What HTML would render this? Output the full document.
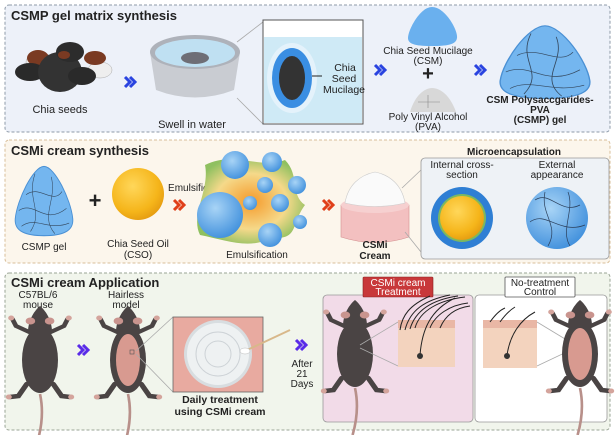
<!DOCTYPE html>
<html><head><meta charset="utf-8"><style>
html,body{margin:0;padding:0;background:#fff}
svg{display:block}
text{font-family:"Liberation Sans",sans-serif;fill:#222}
.b{font-weight:bold}
</style></head><body>
<svg width="616" height="435" viewBox="0 0 616 435" xmlns="http://www.w3.org/2000/svg">
<defs>
<radialGradient id="oil" cx="0.4" cy="0.35" r="0.7"><stop offset="0" stop-color="#ffd75a"/><stop offset="0.7" stop-color="#f5b51a"/><stop offset="1" stop-color="#e49a10"/></radialGradient>
<radialGradient id="bub" cx="0.4" cy="0.35" r="0.7"><stop offset="0" stop-color="#a8d4f6"/><stop offset="1" stop-color="#3f8fdc"/></radialGradient>
<radialGradient id="emu" cx="0.5" cy="0.5" r="0.55"><stop offset="0" stop-color="#f59a2a"/><stop offset="0.6" stop-color="#f5d98a"/><stop offset="1" stop-color="#8fc060"/></radialGradient>
<g id="mouse">
<path d="M0,88 Q4,110 -2,135" stroke="#b8908a" stroke-width="2.2" fill="none"/>
<path d="M-9,26 L-20,20 L-23,13 M9,26 L20,20 L23,13" stroke="#4a4444" stroke-width="4" fill="none" stroke-linecap="round"/>
<path d="M-11,78 L-18,90 L-25,91 M11,78 L18,90 L25,91" stroke="#4a4444" stroke-width="4.5" fill="none" stroke-linecap="round"/>
<circle cx="-24" cy="12" r="2.5" fill="#d4a49c"/><circle cx="24" cy="12" r="2.5" fill="#d4a49c"/>
<circle cx="-26" cy="91" r="2.5" fill="#d4a49c"/><circle cx="26" cy="91" r="2.5" fill="#d4a49c"/>
<ellipse cx="0" cy="54" rx="15" ry="33" fill="#4a4444"/>
<path d="M0,0 C6,6 10,16 10,26 L-10,26 C-10,16 -6,6 0,0Z" fill="#4a4444"/>
<ellipse cx="-8" cy="15" rx="4" ry="3.5" fill="#c9948e"/><ellipse cx="8" cy="15" rx="4" ry="3.5" fill="#c9948e"/>
</g>
<g id="gel">
<path d="M0,-32 C12,-32 30,0 32,18 C33,30 20,34 0,34 C-20,34 -33,30 -32,18 C-30,0 -12,-32 0,-32Z" fill="#74b6ef" stroke="#4a90d4" stroke-width="1"/>
<path d="M-20,-5 C-5,-15 10,5 20,-8 M-28,10 C-10,0 0,25 25,8 M-25,25 C-10,15 5,30 28,22 M-10,-25 C-20,0 0,10 -15,30 M8,-22 C15,0 -5,15 12,32" stroke="#34485e" stroke-width="0.6" fill="none"/>
</g>
<g id="chev"><path d="M0,-5 L5,0 L0,5 M5,-5 L10,0 L5,5" stroke-width="3" fill="none"/></g>
</defs>

<!-- Panel 1 -->
<rect x="5" y="5" width="605" height="127" rx="4" fill="#edf1f9" stroke="#8e9aa8" stroke-dasharray="3,2"/>
<text x="11" y="20" font-size="13" class="b">CSMP gel matrix synthesis</text>
<ellipse cx="40" cy="62" rx="14" ry="9" fill="#e8e8e8" stroke="#aaa" stroke-width="0.5"/>
<ellipse cx="100" cy="70" rx="12" ry="8" fill="#eee" stroke="#aaa" stroke-width="0.5"/>
<ellipse cx="38" cy="58" rx="11" ry="8" fill="#7a3a22"/>
<ellipse cx="95" cy="58" rx="11" ry="7" fill="#7a3a22"/>
<ellipse cx="30" cy="72" rx="15" ry="9" fill="#2a2a2a"/>
<ellipse cx="60" cy="72" rx="22" ry="20" fill="#333"/>
<ellipse cx="70" cy="52" rx="14" ry="10" fill="#2c2c2c"/>
<ellipse cx="82" cy="76" rx="14" ry="9" fill="#2a2a2a"/>
<ellipse cx="64" cy="55" rx="6" ry="4" fill="#7a3a22"/>
<text x="60" y="113" font-size="11" text-anchor="middle">Chia seeds</text>
<use href="#chev" x="125" y="82" stroke="#2a44e0"/>
<path d="M150,52 L156,90 Q195,105 234,90 L240,52Z" fill="#c9ccd2"/>
<ellipse cx="195" cy="52" rx="45" ry="17" fill="#aeb2ba"/>
<ellipse cx="195" cy="53" rx="40" ry="14" fill="#bfe0f2"/>
<ellipse cx="195" cy="58" rx="14" ry="6" fill="#6e6e76"/>
<text x="192" y="128" font-size="11" text-anchor="middle">Swell in water</text>
<line x1="237" y1="42" x2="263" y2="22" stroke="#aaa" stroke-width="0.8"/>
<line x1="237" y1="98" x2="263" y2="124" stroke="#aaa" stroke-width="0.8"/>
<rect x="263" y="20" width="100" height="104" fill="#fff" stroke="#555" stroke-width="1"/>
<rect x="264" y="37" width="98" height="86" fill="#cfeaf6"/>
<ellipse cx="292" cy="78" rx="25" ry="35" fill="#e4f2fb"/>
<ellipse cx="292" cy="78" rx="20" ry="30" fill="#3a8ee2"/>
<ellipse cx="292" cy="78" rx="13" ry="22" fill="#333"/>
<line x1="312" y1="76" x2="322" y2="76" stroke="#222"/>
<text font-size="10.5" text-anchor="middle"><tspan x="345" y="71">Chia</tspan><tspan x="344" y="82">Seed</tspan><tspan x="344" y="93">Mucilage</tspan></text>
<use href="#chev" x="375" y="70" stroke="#2a44e0"/>
<path d="M432,7 C445,7 458,30 457,38 C456,45 446,46 432,46 C418,46 408,45 408,38 C408,30 420,7 432,7Z" fill="#6ab0ee"/>
<text x="428" y="54" font-size="10" text-anchor="middle">Chia Seed Mucilage</text>
<text x="428" y="64" font-size="10" text-anchor="middle">(CSM)</text>
<text x="428" y="80" font-size="20" class="b" text-anchor="middle">+</text>
<path d="M410,112 C415,95 425,88 432,88 C440,88 450,95 456,112Z" fill="#d8d8d8"/>
<path d="M418,102 L440,102 M428,95 L428,108" stroke="#888" stroke-width="0.6"/>
<text x="428" y="120" font-size="10" text-anchor="middle">Poly Vinyl Alcohol</text>
<text x="428" y="130" font-size="10" text-anchor="middle">(PVA)</text>
<use href="#chev" x="475" y="70" stroke="#2a44e0"/>
<use href="#gel" transform="translate(545,61) scale(1.4,1.1)"/>
<text x="540" y="103" font-size="10" class="b" text-anchor="middle">CSM Polysaccgarides-</text>
<text x="540" y="113" font-size="10" class="b" text-anchor="middle">PVA</text>
<text x="540" y="123" font-size="10" class="b" text-anchor="middle">(CSMP) gel</text>

<!-- Panel 2 -->
<rect x="5" y="140" width="605" height="123" rx="4" fill="#fcf6ec" stroke="#d8bf9a" stroke-dasharray="3,2"/>
<text x="11" y="155" font-size="13" class="b">CSMi cream synthesis</text>
<use href="#gel" transform="translate(44,200) scale(0.9,1.05)"/>
<text x="44" y="250" font-size="10" text-anchor="middle">CSMP gel</text>
<text x="95" y="208" font-size="22" class="b" text-anchor="middle">+</text>
<circle cx="138" cy="194" r="26" fill="url(#oil)"/>
<text x="138" y="247" font-size="10" text-anchor="middle">Chia Seed Oil</text>
<text x="138" y="258" font-size="10" text-anchor="middle">(CSO)</text>
<text x="190" y="191" font-size="10" text-anchor="middle">Emulsifier</text>
<use href="#chev" x="174" y="205" stroke="#e0401a"/>
<path d="M205,165 C235,150 260,170 285,160 C300,175 290,195 305,205 C290,225 300,240 270,238 C250,250 225,240 200,235 C190,215 210,190 205,165Z" fill="url(#emu)"/>
<circle cx="220" cy="215" r="23" fill="url(#bub)"/>
<circle cx="235" cy="165" r="14" fill="url(#bub)"/>
<circle cx="272" cy="162" r="10" fill="url(#bub)"/>
<circle cx="265" cy="185" r="8" fill="url(#bub)"/>
<circle cx="297" cy="185" r="9" fill="url(#bub)"/>
<circle cx="250" cy="203" r="7" fill="url(#bub)"/>
<circle cx="280" cy="203" r="9" fill="url(#bub)"/>
<circle cx="300" cy="222" r="7" fill="url(#bub)"/>
<circle cx="270" cy="235" r="12" fill="url(#bub)"/>
<text x="257" y="258" font-size="10" text-anchor="middle">Emulsification</text>
<use href="#chev" x="323" y="205" stroke="#e0401a"/>
<path d="M341,205 L341,237 Q375,248 409,237 L409,205Z" fill="#f3c0c0" stroke="#d49090" stroke-width="0.6"/>
<ellipse cx="375" cy="205" rx="34" ry="8" fill="#f6d0d0"/>
<path d="M345,203 C348,185 360,175 375,172 C390,175 402,185 405,203 Q375,210 345,203Z" fill="#fafafa" stroke="#ccc" stroke-width="0.6"/>
<text x="375" y="248" font-size="10" class="b" text-anchor="middle">CSMi</text>
<text x="375" y="259" font-size="10" class="b" text-anchor="middle">Cream</text>
<line x1="402" y1="188" x2="421" y2="170" stroke="#aaa" stroke-width="0.8"/>
<line x1="405" y1="232" x2="421" y2="252" stroke="#aaa" stroke-width="0.8"/>
<text x="514" y="155" font-size="10" class="b" text-anchor="middle">Microencapsulation</text>
<rect x="421" y="158" width="188" height="101" rx="4" fill="#eef2f6" stroke="#999" stroke-width="0.8"/>
<text x="462" y="168" font-size="10" text-anchor="middle">Internal cross-</text>
<text x="462" y="178" font-size="10" text-anchor="middle">section</text>
<text x="557" y="168" font-size="10" text-anchor="middle">External</text>
<text x="557" y="178" font-size="10" text-anchor="middle">appearance</text>
<circle cx="462" cy="218" r="31" fill="#2f7fd4"/>
<circle cx="462" cy="218" r="24" fill="#7cb860"/>
<circle cx="462" cy="218" r="22" fill="url(#oil)"/>
<circle cx="557" cy="218" r="31" fill="url(#bub)"/>
<path d="M535,200 C550,190 560,215 580,205 M530,222 C545,210 560,235 585,225 M545,192 C540,215 560,225 548,246 M568,192 C575,210 560,230 570,246" stroke="#2a3e5a" stroke-width="0.7" fill="none"/>

<!-- Panel 3 -->
<rect x="5" y="273" width="605" height="157" rx="4" fill="#f1f5ec" stroke="#9aa596" stroke-dasharray="3,2"/>
<text x="11" y="287" font-size="13" class="b">CSMi cream Application</text>
<text x="38" y="298" font-size="10" text-anchor="middle">C57BL/6</text>
<text x="38" y="308" font-size="10" text-anchor="middle">mouse</text>
<text x="126" y="298" font-size="10" text-anchor="middle">Hairless</text>
<text x="126" y="308" font-size="10" text-anchor="middle">model</text>
<use href="#mouse" transform="translate(40,306) scale(1.2,1)"/>
<use href="#chev" x="78" y="350" stroke="#5a2be8"/>
<use href="#mouse" transform="translate(128,306) scale(1.2,1)"/>
<ellipse cx="128" cy="360" rx="12" ry="26" fill="#d89a90"/>
<rect x="130" y="350" width="4" height="4" fill="none" stroke="#555" stroke-width="0.6"/>
<line x1="136" y1="351" x2="173" y2="317" stroke="#aaa" stroke-width="0.8"/>
<line x1="136" y1="354" x2="173" y2="392" stroke="#aaa" stroke-width="0.8"/>
<rect x="173" y="317" width="90" height="75" fill="#e8aaa0" stroke="#666" stroke-width="0.8"/>
<circle cx="218" cy="354" r="34" fill="#d8dde0"/>
<circle cx="218" cy="354" r="31" fill="#eef1f2"/>
<circle cx="218" cy="354" r="22" fill="none" stroke="#cdd2d6" stroke-width="1"/>
<circle cx="218" cy="354" r="13" fill="none" stroke="#cdd2d6" stroke-width="1"/>
<line x1="245" y1="351" x2="290" y2="330" stroke="#d8b88a" stroke-width="2"/>
<ellipse cx="245" cy="351" rx="5" ry="3" fill="#fff" stroke="#bbb" stroke-width="0.5"/>
<text x="220" y="403" font-size="10.5" class="b" text-anchor="middle">Daily treatment</text>
<text x="220" y="415" font-size="10.5" class="b" text-anchor="middle">using CSMi cream</text>
<use href="#chev" x="296" y="345" stroke="#5a2be8"/>
<text x="302" y="367" font-size="10" text-anchor="middle">After</text>
<text x="302" y="377" font-size="10" text-anchor="middle">21</text>
<text x="302" y="387" font-size="10" text-anchor="middle">Days</text>
<rect x="323" y="295" width="150" height="127" rx="4" fill="#f2dbe8" stroke="#999" stroke-width="0.8"/>
<rect x="363" y="277" width="70" height="20" rx="1" fill="#c8383a" stroke="#8a2020" stroke-width="0.6"/>
<text x="398" y="286" font-size="10" text-anchor="middle" style="fill:#fff">CSMi cream</text>
<text x="398" y="295" font-size="10" text-anchor="middle" style="fill:#fff">Treatment</text>
<use href="#mouse" transform="translate(355,300) scale(1.2,1)"/>
<line x1="360" y1="345" x2="398" y2="322" stroke="#aaa" stroke-width="0.8"/>
<line x1="360" y1="348" x2="398" y2="366" stroke="#aaa" stroke-width="0.8"/>
<rect x="398" y="320" width="57" height="47" fill="#f3d3be"/>
<rect x="398" y="320" width="57" height="8" fill="#e9b7a5"/>
<path d="M420,355 C422,330 430,310 455,298 M405,330 C410,310 425,300 450,295 M415,328 C420,310 440,300 465,297 M430,328 C435,315 450,305 468,303 M400,330 C402,315 410,305 430,296 M410,329 C415,312 430,300 458,296 M440,328 C445,316 455,308 470,306" stroke="#222" stroke-width="1" fill="none"/>
<circle cx="420" cy="356" r="3" fill="#333"/>
<rect x="475" y="295" width="132" height="127" rx="4" fill="#fff" stroke="#999" stroke-width="0.8"/>
<rect x="505" y="277" width="70" height="20" rx="1" fill="#fff" stroke="#555" stroke-width="0.8"/>
<text x="540" y="286" font-size="10" text-anchor="middle">No-treatment</text>
<text x="540" y="295" font-size="10" text-anchor="middle">Control</text>
<rect x="483" y="320" width="54" height="48" fill="#f3d3be"/>
<rect x="483" y="320" width="54" height="8" fill="#e9b7a5"/>
<path d="M507,355 C510,335 520,320 535,312 M490,322 C495,315 500,310 505,308 M500,322 C505,315 510,310 515,307" stroke="#222" stroke-width="1" fill="none"/>
<circle cx="507" cy="356" r="3" fill="#333"/>
<line x1="537" y1="322" x2="575" y2="345" stroke="#aaa" stroke-width="0.8"/>
<line x1="537" y1="366" x2="575" y2="348" stroke="#aaa" stroke-width="0.8"/>
<use href="#mouse" transform="translate(580,300) scale(1.2,1)"/>
<ellipse cx="580" cy="354" rx="12" ry="26" fill="#d89a90"/>
</svg>
</body></html>
